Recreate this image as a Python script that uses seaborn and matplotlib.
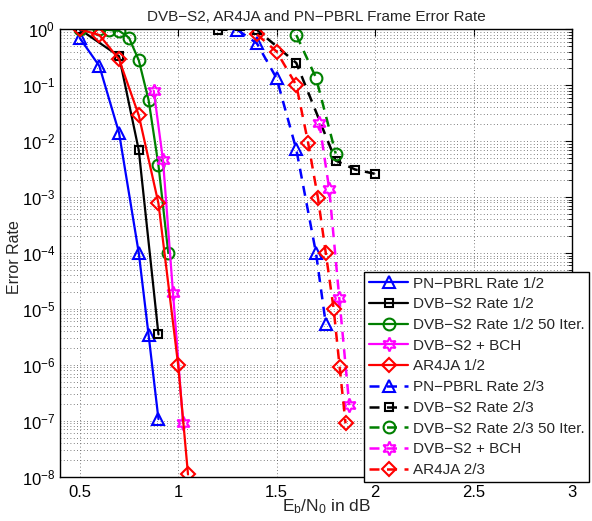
import numpy as np
import pandas as pd
import matplotlib
matplotlib.use("Agg")
import matplotlib.pyplot as plt
import seaborn as sns
from matplotlib.ticker import NullFormatter, FixedLocator, FixedFormatter

# ---- data ----
pn12_x = [0.5, 0.6, 0.7, 0.8, 0.85, 0.9]
pn12_y = [0.7, 0.22, 0.014, 1.0e-4, 3.4e-6, 1.07e-7]

dvb12_x = [0.5, 0.7, 0.8, 0.9]
dvb12_y = [1.0, 0.33, 0.0069, 3.5e-6]

dvb12i_x = [0.5, 0.6, 0.65, 0.7, 0.75, 0.8, 0.85, 0.9, 0.95]
dvb12i_y = [1.0, 1.0, 0.97, 0.94, 0.71, 0.28, 0.054, 0.0037, 1.0e-4]

bch12_x = [0.876, 0.923, 0.974, 1.025]
bch12_y = [0.08, 0.0046, 1.9e-5, 9.2e-8]

ar12_x = [0.5, 0.6, 0.7, 0.8, 0.9, 1.0, 1.05]
ar12_y = [1.0, 0.79, 0.29, 0.029, 7.7e-4, 1.0e-6, 1.1e-8]

pn23_x = [1.3, 1.4, 1.5, 1.6, 1.7, 1.75]
pn23_y = [0.98, 0.56, 0.133, 0.0071, 1.0e-4, 5.3e-6]

dvb23_x = [1.2, 1.4, 1.6, 1.8, 1.9, 2.0]
dvb23_y = [0.98, 0.98, 0.25, 0.0045, 0.0031, 0.0026]

dvb23i_x = [1.6, 1.7, 1.8]
dvb23i_y = [0.79, 0.136, 0.006]

bch23_x = [1.717, 1.767, 1.818, 1.869]
bch23_y = [0.021, 0.0014, 1.6e-5, 1.9e-7]

ar23_x = [1.4, 1.5, 1.6, 1.66, 1.71, 1.75, 1.79, 1.82, 1.85]
ar23_y = [0.81, 0.4, 0.1, 0.0094, 9.6e-4, 9.8e-5, 9.8e-6, 9.2e-7, 9.0e-8]

x_ticks = [0.5, 1, 1.5, 2, 2.5, 3]
x_ticklabels = ["0.5", "1", "1.5", "2", "2.5", "3"]
y_exps = [0, -1, -2, -3, -4, -5, -6, -7, -8]

labels = ["PN\u2212PBRL Rate 1/2", "DVB\u2212S2 Rate 1/2", "DVB\u2212S2 Rate 1/2 50 Iter.",
          "DVB\u2212S2 + BCH", "AR4JA 1/2",
          "PN\u2212PBRL Rate 2/3", "DVB\u2212S2 Rate 2/3", "DVB\u2212S2 Rate 2/3 50 Iter.",
          "DVB\u2212S2 + BCH", "AR4JA 2/3"]

series = [
    (pn12_x, pn12_y, "#0000ff", "^", "-", 9),
    (dvb12_x, dvb12_y, "#000000", "s", "-", 6),
    (dvb12i_x, dvb12i_y, "#008000", "o", "-", 8.5),
    (bch12_x, bch12_y, "#ff00ff", (6, 1, 0), "-", 10),
    (ar12_x, ar12_y, "#ff0000", "D", "-", 7),
    (pn23_x, pn23_y, "#0000ff", "^", "--", 9),
    (dvb23_x, dvb23_y, "#000000", "s", "--", 6),
    (dvb23i_x, dvb23i_y, "#008000", "o", "--", 8.5),
    (bch23_x, bch23_y, "#ff00ff", (6, 1, 0), "--", 10),
    (ar23_x, ar23_y, "#ff0000", "D", "--", 7),
]

sns.set_theme(style="white")
plt.rcParams['font.family'] = ['Liberation Sans', 'DejaVu Sans']
plt.rcParams['mathtext.fontset'] = 'custom'
plt.rcParams['mathtext.rm'] = 'Liberation Sans'

fig = plt.figure(figsize=(5.92, 5.21), dpi=100)
ax = fig.add_axes([60/592, 1 - 476.7/521, 512/592, 447.4/521])

for (xs, ys, c, m, ls, ms), lab in zip(series, labels):
    df = pd.DataFrame({"x": xs, "y": ys})
    sns.lineplot(data=df, x="x", y="y", ax=ax, sort=False, color=c,
                 linewidth=1.6 if ls == "-" else 1.8, marker=m, markersize=ms,
                 markerfacecolor="none", markeredgecolor=c, markeredgewidth=1.5,
                 label=lab)
    ax.lines[-1].set_linestyle((0, (4, 3)) if ls == "--" else "-")

ax.set_yscale("log")
ax.set_xlim(0.4, 3.0)
ax.set_ylim(1e-8, 1)
ax.xaxis.set_major_locator(FixedLocator(x_ticks))
ax.xaxis.set_major_formatter(FixedFormatter(x_ticklabels))
ax.yaxis.set_major_locator(FixedLocator([10.0 ** e for e in y_exps]))
ax.yaxis.set_major_formatter(FixedFormatter([r"$\mathregular{10^{%d}}$" % e for e in y_exps]))
minor = [k * 10.0 ** e for e in y_exps[1:] for k in range(2, 10)]
ax.yaxis.set_minor_locator(FixedLocator(minor))
ax.yaxis.set_minor_formatter(NullFormatter())

ax.grid(True, which="major", axis="both", linestyle=(0, (1, 3)), color="#555555", linewidth=0.6)
ax.grid(True, which="minor", axis="y", linestyle=(0, (1, 3)), color="#555555", linewidth=0.6)

ax.tick_params(axis="both", which="both", direction="in", top=True, right=True,
               labelsize=12, colors="black")
ax.tick_params(which="major", length=5, width=0.8)
ax.tick_params(which="minor", length=3, width=0.6)
ax.tick_params(axis="x", which="major", pad=6)
for sp in ax.spines.values():
    sp.set_color("black")
    sp.set_linewidth(1.0)

ax.set_title("DVB\u2212S2, AR4JA and PN\u2212PBRL Frame Error Rate", fontsize=11, pad=6)
ax.set_xlabel(r"$\mathregular{E_b/N_0}$ in dB", fontsize=12.5)
ax.xaxis.set_label_coords(0.52, -0.045)
ax.set_ylabel("Error Rate", fontsize=11.5)
ax.yaxis.set_label_coords(-0.074, 0.49)

leg = ax.legend(loc="upper left", bbox_to_anchor=(0.594, 0.4575), fontsize=11,
                frameon=True, fancybox=False, edgecolor="black", framealpha=1,
                handlelength=2.6, labelspacing=0.44, borderpad=0.3, handletextpad=0.3,
                borderaxespad=0)
leg.get_frame().set_linewidth(1.0)

fig.savefig("out.png", dpi=100)
